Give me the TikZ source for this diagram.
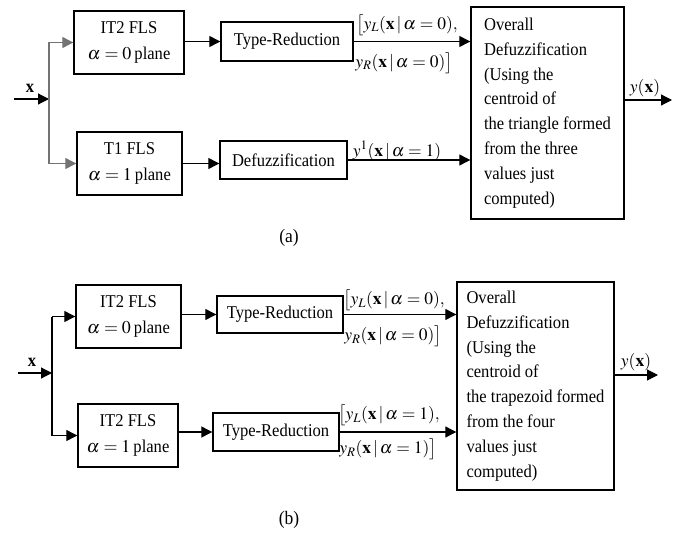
\documentclass[tikz,border=0pt]{standalone}
\usepackage{mathptmx}
\usepackage[no-math]{fontspec}
\setmainfont{Liberation Serif}[FakeStretch=0.92]
\usetikzlibrary{arrows.meta}
\begin{document}
\begin{tikzpicture}[x=1pt,y=-1pt,
  blk/.style={draw,line width=1.4pt,align=center,inner sep=0pt,font=\fontsize{18}{25.5}\selectfont},
  bigbox/.style={draw,line width=1.4pt,align=left,inner sep=0pt,font=\fontsize{18}{24.8}\selectfont},
  con/.style={line width=1.2pt,-{Triangle[length=11pt,width=11pt]}},
  wire/.style={line width=1.2pt},
  graywire/.style={line width=1.2pt,draw=black!55},
  lbl/.style={inner sep=0pt,font=\fontsize{17.5}{20}\selectfont},
]
\useasboundingbox (0,0) rectangle (688,535);

% ---------------- panel (a) ----------------
\node[blk,minimum width=110pt,minimum height=63pt] (A1) at (129,42.5) {IT2 FLS\\ $\alpha = 0$\,plane};
\node[blk,minimum width=105pt,minimum height=63pt] (A2) at (129.5,163.5) {T1 FLS\\ $\alpha = 1$\,plane};
\node[blk,minimum width=132pt,minimum height=39pt] (A3) at (287,41.5) {Type-Reduction};
\node[blk,minimum width=127pt,minimum height=38pt] (A4) at (283.5,160) {Defuzzification};
\node[bigbox,minimum width=153pt,minimum height=212pt] (A5) at (547.5,113) {Overall\\ Defuzzification\\ (Using the\\ centroid of\\ the triangle formed\\ from the three\\ values just\\ computed)};

\coordinate (ain) at (14,99);
\coordinate (aj) at (49,99);
\coordinate (aout) at (672,100);
\draw[con] (ain) -- (aj);
\node[lbl,font=\fontsize{18}{20}\selectfont\bfseries] (ax) at (30,88) {x};
\draw[graywire] (aj |- A1.west) -- (aj |- A2.west);
\draw[con,draw=black!55] (aj |- A1.west) -- (A1.west);
\draw[con,draw=black!55] (aj |- A2.west) -- (A2.west);
\draw[con] (A1.east |- A3.west) -- (A3.west);
\draw[con] (A2.east) -- (A2.east -| A4.west);
\draw[con] (A3.east) -- (A3.east -| A5.west);
\draw[con] (A4.east) -- (A4.east -| A5.west);
\draw[con] (A5.east |- aout) -- (aout);
\node[lbl] (ay) at (645,88) {$y(\mathbf{x})$};
\node[lbl] (al1) at (407,25) {$\big[y_L(\mathbf{x}\,|\,\alpha = 0),$};
\node[lbl] (al2) at (404,63) {$y_R(\mathbf{x}\,|\,\alpha = 0)\big]$};
\node[lbl] (al3) at (397,151) {$y^1(\mathbf{x}\,|\,\alpha = 1)$};
\node[lbl,font=\fontsize{19}{20}\selectfont] (acap) at (289,238) {(a)};

% ---------------- panel (b) ----------------
\node[blk,minimum width=105pt,minimum height=63pt] (B1) at (128.5,316.5) {IT2 FLS\\ $\alpha = 0$\,plane};
\node[blk,minimum width=100pt,minimum height=63pt] (B2) at (128,435.5) {IT2 FLS\\ $\alpha = 1$\,plane};
\node[blk,minimum width=126pt,minimum height=37pt] (B3) at (280,314.5) {Type-Reduction};
\node[blk,minimum width=126pt,minimum height=38pt] (B4) at (276,432) {Type-Reduction};
\node[bigbox,minimum width=157pt,minimum height=208pt] (B5) at (535.5,386) {Overall\\ Defuzzification\\ (Using the\\ centroid of\\ the trapezoid formed\\ from the four\\ values just\\ computed)};

\coordinate (bin) at (18,373);
\coordinate (bj) at (52,373);
\coordinate (bout) at (658,375);
\draw[con] (bin) -- (bj);
\node[lbl,font=\fontsize{18}{20}\selectfont\bfseries] (bx) at (32,362) {x};
\draw[wire] (bj |- B1.west) -- (bj |- B2.west);
\draw[con] (bj |- B1.west) -- (B1.west);
\draw[con] (bj |- B2.west) -- (B2.west);
\draw[con] (B1.east |- B3.west) -- (B3.west);
\draw[con] (B2.east |- B4.west) -- (B4.west);
\draw[con] (B3.east) -- (B3.east -| B5.west);
\draw[con] (B4.east) -- (B4.east -| B5.west);
\draw[con] (B5.east |- bout) -- (bout);
\node[lbl] (by) at (636,362) {$y(\mathbf{x})$};
\node[lbl] (bl1) at (394,300) {$\big[y_L(\mathbf{x}\,|\,\alpha = 0),$};
\node[lbl] (bl2) at (393,336) {$y_R(\mathbf{x}\,|\,\alpha = 0)\big]$};
\node[lbl] (bl3) at (389,415) {$\big[y_L(\mathbf{x}\,|\,\alpha = 1),$};
\node[lbl] (bl4) at (388,449) {$y_R(\mathbf{x}\,|\,\alpha = 1)\big]$};
\node[lbl,font=\fontsize{19}{20}\selectfont] (bcap) at (289,520) {(b)};
\end{tikzpicture}
\end{document}
